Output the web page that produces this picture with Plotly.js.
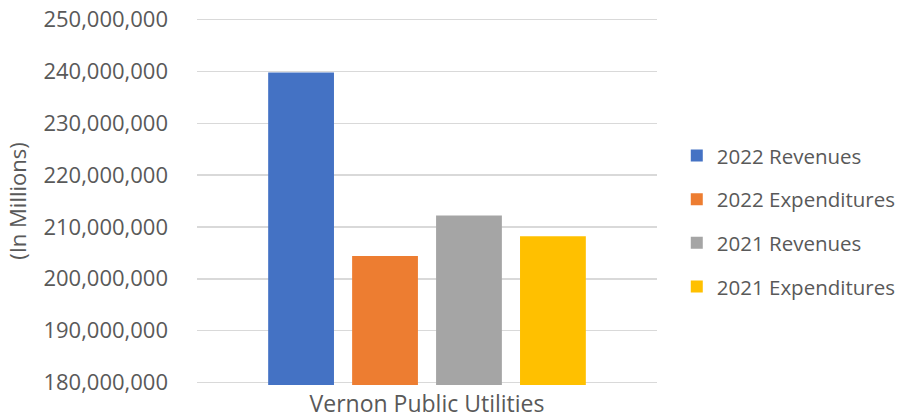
<!DOCTYPE html>
<html>
<head>
<meta charset="utf-8">
<script src="https://cdn.plot.ly/plotly-3.0.1.min.js"></script>
<style>html,body{margin:0;padding:0;background:#fff;}#chart{width:903px;height:418px;}</style>
</head>
<body>
<div id="chart"></div>
<script>
const categories = ["Vernon Public Utilities"];
const seriesNames = ["2022 Revenues", "2022 Expenditures", "2021 Revenues", "2021 Expenditures"];
const rev2022 = [239800000];
const exp2022 = [204400000];
const rev2021 = [212200000];
const exp2021 = [208200000];
const seriesColors = ["#4472c4", "#ed7d31", "#a5a5a5", "#ffc000"];

const seriesValues = [rev2022, exp2022, rev2021, exp2021];
const font = "Open Sans, Liberation Sans, sans-serif";
const textColor = "#595959";

const traces = seriesValues.map((vals, i) => ({
  type: "bar",
  name: seriesNames[i],
  x: categories,
  y: vals,
  marker: {color: seriesColors[i]},
  legendgroup: "g" + i,
  hoverinfo: "none"
}));

const layout = {
  width: 903, height: 418,
  margin: {l: 197, r: 246, t: 17.4, b: 33.4, autoexpand: false},
  paper_bgcolor: "#fff", plot_bgcolor: "#fff",
  barmode: "group",
  bargap: 0.27,
  bargroupgap: 0.216,
  font: {family: font, color: textColor, size: 21},
  xaxis: {
    type: "category",
    showgrid: false, showline: false, zeroline: false,
    ticks: "", tickfont: {size: 23, color: textColor},
    ticklabelstandoff: 3,
    automargin: false
  },
  yaxis: {
    range: [179500000, 250500000],
    dtick: 10000000,
    tick0: 0,
    tickformat: ",d",
    showgrid: true, gridcolor: "#d9d9d9", gridwidth: 1.5,
    zeroline: false, showline: false, ticks: "",
    tickfont: {size: 22, color: textColor},
    ticklabelstandoff: 28,
    automargin: false,
    title: {text: "(In Millions)", font: {size: 22, color: textColor}, standoff: 10}
  },
  legend: {
    x: 1.043, xanchor: "left",
    y: 0.445, yanchor: "middle",
    traceorder: "grouped",
    tracegroupgap: 14,
    font: {size: 20.5, color: textColor},
    bgcolor: "rgba(0,0,0,0)"
  },
  showlegend: true
};

Plotly.newPlot("chart", traces, layout, {displayModeBar: false, staticPlot: true});
</script>
</body>
</html>
